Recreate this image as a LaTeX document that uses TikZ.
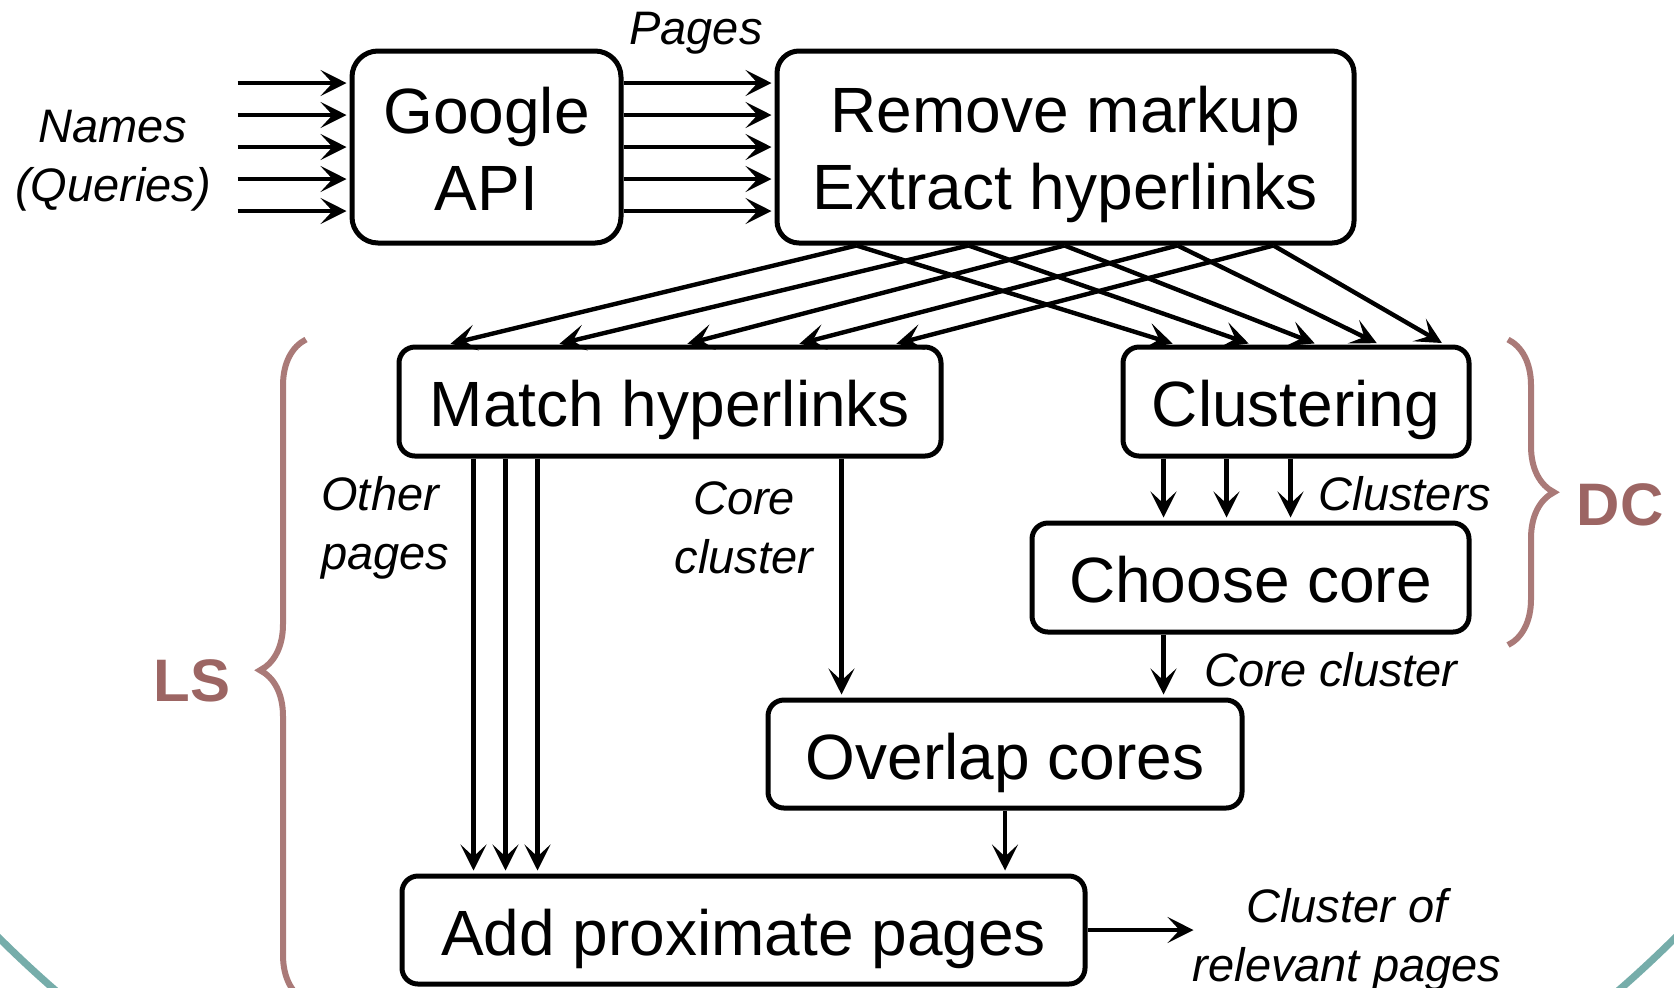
\documentclass[tikz,border=0pt]{standalone}
\usepackage{fontspec}
\setmainfont{Liberation Sans}
\usetikzlibrary{arrows.meta,calc,decorations.pathreplacing}
\definecolor{braceC}{HTML}{AA7A78}
\definecolor{lblC}{HTML}{9C6563}
\definecolor{tealC}{HTML}{76ADAA}
\begin{document}
\begin{tikzpicture}[x=0.5pt,y=-0.5pt,
  box/.style={draw, line width=2.5pt, rounded corners=8pt, inner sep=0pt, align=center, font=\fontsize{32}{38.5}\selectfont},
  onebox/.style={box, text height=31pt, text depth=6pt},
  arr/.style={line width=2.2pt, shorten >=1.5pt, -{Stealth[length=13pt,width=13pt,inset=6pt]}},
  lbl/.style={font=\fontsize{23.5}{29.5}\selectfont\itshape, inner sep=0pt, align=center},
  grp/.style={font=\fontsize{30}{36}\selectfont\bfseries, text=lblC, inner sep=0pt},
  bracestyle/.style={draw=braceC, line width=3pt, decorate, decoration={brace, amplitude=23pt}}
]
\useasboundingbox (0,0) rectangle (1674,987);
\begin{scope}
  \clip (0,0) rectangle (1674,987);
  \draw[tealC, line width=3.6pt] (837,93) circle[radius=1190];
  \draw[bracestyle] (306,1001) -- (306,339.5);
  \draw[bracestyle] (1508,339.5) -- (1508,645);
\end{scope}
\node[grp] (ls) at (192,681) {LS};
\node[grp] (dc) at (1620,505) {DC};

% boxes
\node[box, rounded corners=13pt, minimum width=134.5pt, minimum height=96pt, text height=63.5pt, text depth=0pt] (google) at (486.5,147) {Google\\API};
\node[box, rounded corners=11pt, minimum width=288.5pt, minimum height=96pt, text height=68pt, text depth=6pt] (remove) at (1065.5,147) {Remove markup\\Extract hyperlinks};
\node[onebox, minimum width=271pt, minimum height=54.5pt] (match) at (670,401.5) {Match hyperlinks};
\node[onebox, minimum width=173pt, minimum height=54.5pt] (clust) at (1296,401.5) {Clustering};
\node[onebox, minimum width=218.5pt, minimum height=54.5pt] (choose) at (1250.5,577.5) {Choose core};
\node[onebox, minimum width=237pt, minimum height=54pt] (overlap) at (1005,754) {Overlap cores};
\node[onebox, minimum width=341.5pt, minimum height=54pt] (add) at (743.5,930) {Add proximate pages};

% labels
\node[lbl] (names) at (113,161) {Names\\(Queries)};
\node[lbl] (pages) at (696,33) {Pages};
\node[lbl, align=left, anchor=west] (other) at (321,528) {Other\\pages};
\node[lbl] (corel) at (744,528) {Core\\cluster};
\node[lbl] (clusters) at (1405,494) {Clusters};
\node[lbl] (corecl) at (1331,670) {Core cluster};
\node[lbl] (result) at (1347,940) {Cluster of\\relevant pages};

% input and page arrows
\foreach \k in {-2,...,2} {
  \coordinate (in\k) at ($(google.west)+(-112,\k*32)$);
  \draw[arr] (in\k) -- ($(google.west)+(0,\k*32)$);
  \draw[arr] ($(google.east)+(0,\k*32)$) -- ($(remove.west)+(0,\k*32)$);
}

% fan-out
\foreach \s/\l/\r in {82/51/55, 194/160/131, 290/288/197, 403/400/259, 499/497/324} {
  \draw[arr] ($(remove.south west)+(\s,0)$) -- ($(match.north west)+(\l,0)$);
  \draw[arr] ($(remove.south west)+(\s,0)$) -- ($(clust.north west)+(\r,0)$);
}

% other pages
\foreach \o in {77,109,141} {
  \coordinate (op\o) at ($(match.south west)+(\o,0)$);
  \draw[arr] (op\o) -- (op\o |- add.north);
}
% core cluster from match
\coordinate (mc) at ($(match.south west)+(445,0)$);
\draw[arr] (mc) -- (mc |- overlap.north);
% clusters
\foreach \o in {43,106,170} {
  \coordinate (cl\o) at ($(clust.south west)+(\o,0)$);
  \draw[arr] (cl\o) -- (cl\o |- choose.north);
}
% choose -> overlap
\coordinate (cc) at ($(choose.south west)+(134,0)$);
\draw[arr] (cc) -- (cc |- overlap.north);
% overlap -> add
\draw[arr] (overlap.south) -- (overlap.south |- add.north);
% add -> output
\coordinate (out) at ($(add.east)+(109,0)$);
\draw[arr] (add.east) -- (out);
\end{tikzpicture}
\end{document}
